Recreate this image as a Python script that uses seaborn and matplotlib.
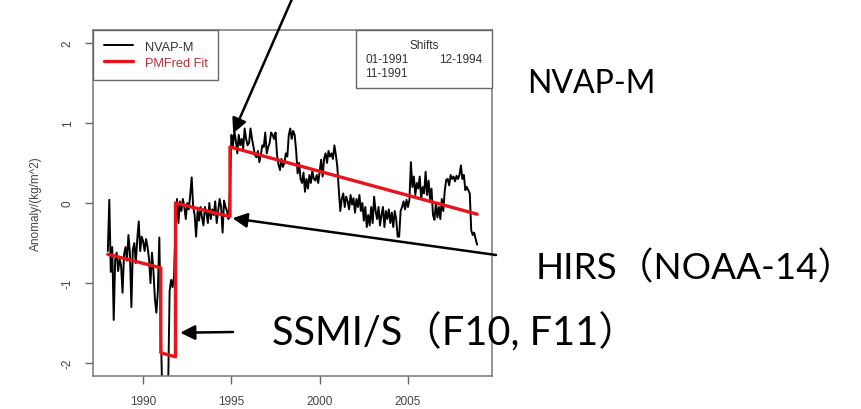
import numpy as np
import pandas as pd
import seaborn as sns
import matplotlib.pyplot as plt
from matplotlib.lines import Line2D

# monthly NVAP-M anomaly, Jan 1988 .. Dec 2008 (kg/m^2)
nvap_anomaly = [
    -0.60, 0.04, -0.86, -0.55, -1.46, -0.70, -0.62, -0.85, -0.70, -0.78, -1.12, -0.65,  # 1988
    -0.55, -0.72, -0.40, -0.62, -1.30, -0.58, -0.50, -0.75, -0.45, -0.23, -0.60, -0.42,  # 1989
    -0.48, -0.60, -0.45, -0.55, -0.70, -1.00, -0.62, -0.85, -1.20, -1.37, -1.10, -0.43,  # 1990
    -1.55, -2.40, -2.45, -2.50, -2.40, -2.30, -1.10, -0.96, -1.05, -0.92, -0.30, 0.05,   # 1991
    -0.25, 0.02, -0.10, 0.05, -0.05, -0.20, 0.00, -0.08, 0.10, 0.32, -0.05, -0.15,       # 1992
    -0.42, -0.10, -0.22, -0.05, -0.18, -0.28, -0.05, -0.12, -0.25, 0.00, -0.20, -0.08,   # 1993
    -0.15, 0.02, -0.25, -0.10, 0.05, -0.05, -0.37, 0.03, -0.05, -0.10, -0.20, 0.15,      # 1994
    0.85, 0.70, 0.90, 0.78, 0.62, 0.85, 0.72, 0.80, 0.68, 0.93, 0.80, 0.72,              # 1995
    0.75, 0.93, 0.80, 0.70, 0.60, 0.57, 0.65, 0.51, 0.60, 0.72, 0.70, 0.88,              # 1996
    0.62, 0.70, 0.75, 0.88, 0.85, 0.80, 0.88, 0.60, 0.48, 0.41, 0.55, 0.45,              # 1997
    0.50, 0.62, 0.58, 0.85, 0.93, 0.80, 0.90, 0.85, 0.65, 0.37, 0.50, 0.30,              # 1998
    0.25, 0.38, 0.14, 0.30, 0.18, 0.35, 0.25, 0.40, 0.30, 0.28, 0.35, 0.25,              # 1999
    0.40, 0.54, 0.33, 0.55, 0.62, 0.50, 0.65, 0.58, 0.62, 0.55, 0.72, 0.60,              # 2000
    0.45, 0.16, -0.10, 0.05, 0.12, -0.05, 0.08, 0.02, -0.08, 0.10, -0.02, 0.06,          # 2001
    -0.12, 0.05, -0.05, 0.10, -0.10, 0.00, -0.22, -0.05, -0.30, -0.15, -0.28, -0.05,     # 2002
    -0.25, 0.08, -0.10, -0.20, -0.05, -0.28, -0.15, -0.05, -0.30, -0.10, -0.20, -0.08,   # 2003
    -0.25, -0.12, -0.30, -0.10, -0.20, -0.42, -0.42, -0.10, -0.05, 0.02, -0.08, 0.04,    # 2004
    -0.05, 0.04, 0.51, 0.20, 0.33, 0.10, 0.25, 0.18, 0.33, 0.05, 0.20, 0.12,             # 2005
    0.39, 0.10, 0.28, 0.05, 0.18, -0.15, -0.21, 0.00, -0.18, -0.05, -0.20, 0.05,         # 2006
    -0.10, 0.15, 0.29, 0.30, 0.22, 0.35, 0.30, 0.33, 0.27, 0.34, 0.30, 0.35,             # 2007
    0.47, 0.30, 0.35, 0.16, 0.20, 0.16, 0.12, -0.34, -0.40, -0.37, -0.45, -0.52,         # 2008
]
start_year = 1988

# PMFred piecewise-linear fit
seg_bounds = [1988.0, 1991.0, 1991.83, 1994.92, 2008.92]
seg_start = [-0.64, -1.87, 0.00, 0.70]
seg_end = [-0.81, -1.92, -0.17, -0.14]
shift_labels = ['01-1991', '11-1991', '12-1994']

yticks = [-2, -1, 0, 1, 2]
xticks = [1990, 1995, 2000, 2005]

df = pd.DataFrame({'year': start_year + np.arange(len(nvap_anomaly)) / 12.0,
                   'anomaly': nvap_anomaly})
fit_x, fit_y = [], []
for i in range(len(seg_start)):
    fit_x += [seg_bounds[i], seg_bounds[i + 1]]
    fit_y += [seg_start[i], seg_end[i]]
fit = pd.DataFrame({'year': fit_x, 'anomaly': fit_y})

sns.set_style('white')
plt.rcParams['font.family'] = ['Liberation Sans', 'DejaVu Sans']

W, H = 861, 410
fig = plt.figure(figsize=(W / 100, H / 100), dpi=100)
ax = fig.add_axes([93 / W, 1 - 377 / H, (492 - 93) / W, (377 - 31) / H])

sns.lineplot(data=df, x='year', y='anomaly', color='black', lw=1.4,
             sort=False, estimator=None, ax=ax)
sns.lineplot(data=fit, x='year', y='anomaly', color='#e8141c', lw=2.4,
             sort=False, estimator=None, ax=ax)

ax.set_xlim(1987.16, 2009.76)
ax.set_ylim(-2.16, 2.16)
ax.set_xticks(xticks)
ax.set_yticks(yticks)
ax.set_yticklabels([str(t) for t in yticks], rotation=90, va='center')
ax.tick_params(direction='out', length=6, width=1, color='#666666',
               labelcolor='#444444', labelsize=8.5, pad=8)
ax.tick_params(axis='x', pad=8)
ax.tick_params(left=True, bottom=True)
for s in ax.spines.values():
    s.set_color('#777777')
    s.set_linewidth(1.1)
ax.set_xlabel('')
ax.set_ylabel('Anomaly/(kg/m^2)', fontsize=8.5, color='#444444')
ax.yaxis.set_label_coords(-(93 - 42) / (492 - 93), 0.5)

# legends (R style boxes)
h1 = [Line2D([], [], color='black', lw=1.4), Line2D([], [], color='#e8141c', lw=2.4)]
leg1 = ax.legend(h1, ['NVAP-M', 'PMFred Fit'], loc='upper left', bbox_to_anchor=(0, 1),
                 borderaxespad=0, fancybox=False, edgecolor='#666666', framealpha=1,
                 fontsize=9.2, handlelength=2.3, handletextpad=0.9, borderpad=0.85,
                 labelspacing=0.3)
leg1.get_frame().set_linewidth(1.0)
leg1.get_texts()[0].set_color('#333333')
leg1.get_texts()[1].set_color('#b5303c')
ax.add_artist(leg1)

h2 = [Line2D([], [], linestyle='none') for _ in shift_labels]
leg2 = ax.legend(h2, shift_labels, title='Shifts', loc='upper right', bbox_to_anchor=(1, 1),
                 borderaxespad=0, fancybox=False, edgecolor='#666666', framealpha=1,
                 fontsize=8.5, title_fontsize=8.5, ncol=2, handlelength=0,
                 handletextpad=0, columnspacing=2.6, borderpad=0.8, labelspacing=0.15)
leg2.get_frame().set_linewidth(1.0)
for t in leg2.get_texts():
    t.set_color('#333333')
leg2.get_title().set_color('#333333')

# annotations
big = dict(family=['Lato', 'Noto Sans CJK JP'], color='black')
fig.text(527 / W, 1 - 84 / H, 'NVAP-M', va='center', ha='left', fontsize=23, **big)
fig.text(536 / W, 1 - 268 / H, 'HIRS\uff08NOAA-14\uff09', va='center', ha='left',
         fontsize=26.6, **big)
fig.text(272 / W, 1 - 333 / H, 'SSMI/S\uff08F10, F11\uff09', va='center', ha='left',
         fontsize=28.5, **big)

arrow = dict(arrowstyle='-|>', color='black', lw=1.8, mutation_scale=22, shrinkA=0, shrinkB=0)
ax.annotate('', xy=(1995.1, 0.87), xytext=(292, H - 0), textcoords='figure pixels',
            arrowprops=arrow, annotation_clip=False)
ax.annotate('', xy=(1995.06, -0.19), xytext=(496, H - 256), textcoords='figure pixels',
            arrowprops=arrow, annotation_clip=False)
ax.annotate('', xy=(1992.1, -1.62), xytext=(233, H - 333), textcoords='figure pixels',
            arrowprops=arrow, annotation_clip=False)

fig.savefig('out.png', dpi=100)
